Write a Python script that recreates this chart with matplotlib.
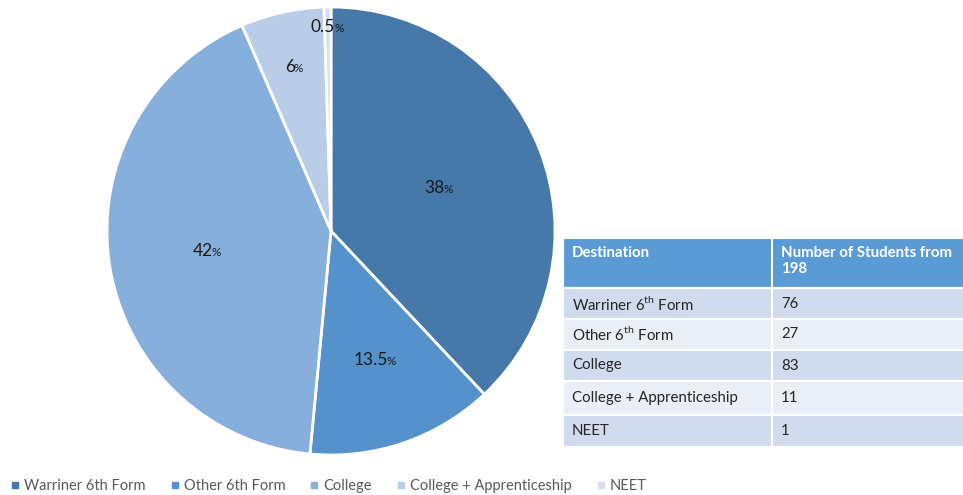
import matplotlib
matplotlib.use("Agg")
import matplotlib.pyplot as plt
from matplotlib.patches import Rectangle
from matplotlib.lines import Line2D
import numpy as np

plt.rcParams['font.family'] = ['Lato', 'DejaVu Sans']
plt.rcParams['mathtext.fontset'] = 'custom'
plt.rcParams['mathtext.rm'] = 'Lato'

# ---- data ----
categories = ["Warriner 6th Form", "Other 6th Form", "College",
              "College + Apprenticeship", "NEET"]
percentages = [38, 13.5, 42, 6, 0.5]
pct_labels = ["38", "13.5", "42", "6", "0.5"]
table_header = ["Destination", "Number of Students from\n198"]
table_names = ["Warriner 6$^{\\mathrm{th}}$ Form", "Other 6$^{\\mathrm{th}}$ Form",
               "College", "College + Apprenticeship", "NEET"]
table_counts = ["76", "27", "83", "11", "1"]

colors = ["#4679AA", "#5591CA", "#87AFDC", "#B9CDE8", "#D4DFF0"]
label_r = [0.52, 0.61, 0.56, 0.75, 0.91]

W, H = 963, 495
fig = plt.figure(figsize=(W / 100, H / 100), dpi=100)

# ---- pie ----
cx, cy, R = 331, 231, 224
ax = fig.add_axes([(cx - R) / W, (H - cy - R) / H, 2 * R / W, 2 * R / H])
wedges, _ = ax.pie(percentages, colors=colors, startangle=90, counterclock=False,
                   radius=1, wedgeprops=dict(edgecolor="white", linewidth=2))
ax.set_xlim(-1, 1)
ax.set_ylim(-1, 1)
ax.set_aspect("equal")
ax.axis("off")

fig.canvas.draw()
renderer = fig.canvas.get_renderer()
for w, lab, r in zip(wedges, pct_labels, label_r):
    ang = np.deg2rad((w.theta1 + w.theta2) / 2)
    x, y = r * np.cos(ang), r * np.sin(ang)
    t1 = ax.text(x, y, lab, ha="center", va="center", fontsize=12.5, color="#1a1a1a")
    t2 = ax.text(x, y, "%", ha="left", va="center", fontsize=8.5, color="#1a1a1a")
    fig.canvas.draw()
    b1 = t1.get_window_extent(renderer)
    b2 = t2.get_window_extent(renderer)
    total = b1.width + b2.width
    px, py = ax.transData.transform((x, y))
    left = px - total / 2
    inv = ax.transData.inverted()
    t1.set_position(inv.transform((left + b1.width / 2, py)))
    t2.set_position(inv.transform((left + b1.width - 1, py - 1.5)))

# ---- table (pixel coordinate overlay) ----
ov = fig.add_axes([0, 0, 1, 1])
ov.set_xlim(0, W)
ov.set_ylim(H, 0)
ov.axis("off")

x0, xs, x1 = 563, 772, 975
header_y = (238, 288)
row_edges = [288, 319, 350, 381, 415, 447]
row_colors = ["#D0DBEE", "#E9EEF7", "#D0DBEE", "#E9EEF7", "#D0DBEE"]

for (a, b) in [(x0, xs), (xs, x1)]:
    ov.add_patch(Rectangle((a, header_y[0]), b - a, header_y[1] - header_y[0],
                           facecolor="#5B9BD5", edgecolor="white", linewidth=1.5))
ov.text(x0 + 9, header_y[0] + 8, table_header[0], ha="left", va="top",
        fontsize=10.8, color="white", fontweight="bold")
ov.text(xs + 9, header_y[0] + 8, table_header[1], ha="left", va="top",
        fontsize=10.8, color="white", fontweight="bold", linespacing=1.2)

for i in range(len(table_names)):
    top, bot = row_edges[i], row_edges[i + 1]
    for (a, b) in [(x0, xs), (xs, x1)]:
        ov.add_patch(Rectangle((a, top), b - a, bot - top, facecolor=row_colors[i],
                               edgecolor="white", linewidth=1.5))
    ymid = (top + bot) / 2
    ov.text(x0 + 9, ymid, table_names[i], ha="left", va="center",
            fontsize=10.8, color="#262626")
    ov.text(xs + 9, ymid, table_counts[i], ha="left", va="center",
            fontsize=10.8, color="#262626")

# ---- legend ----
handles = [Line2D([], [], marker="s", linestyle="none", markersize=4.5,
                  markerfacecolor=c, markeredgecolor=c) for c in colors]
fig.legend(handles, categories, ncol=5, loc="center left",
           bbox_to_anchor=(6 / W, 1 - 486 / H), frameon=False,
           fontsize=10.5, labelcolor="#595959", handlelength=0.5,
           handletextpad=0.35, columnspacing=1.75, borderaxespad=0)

fig.savefig("out.png", dpi=100)
